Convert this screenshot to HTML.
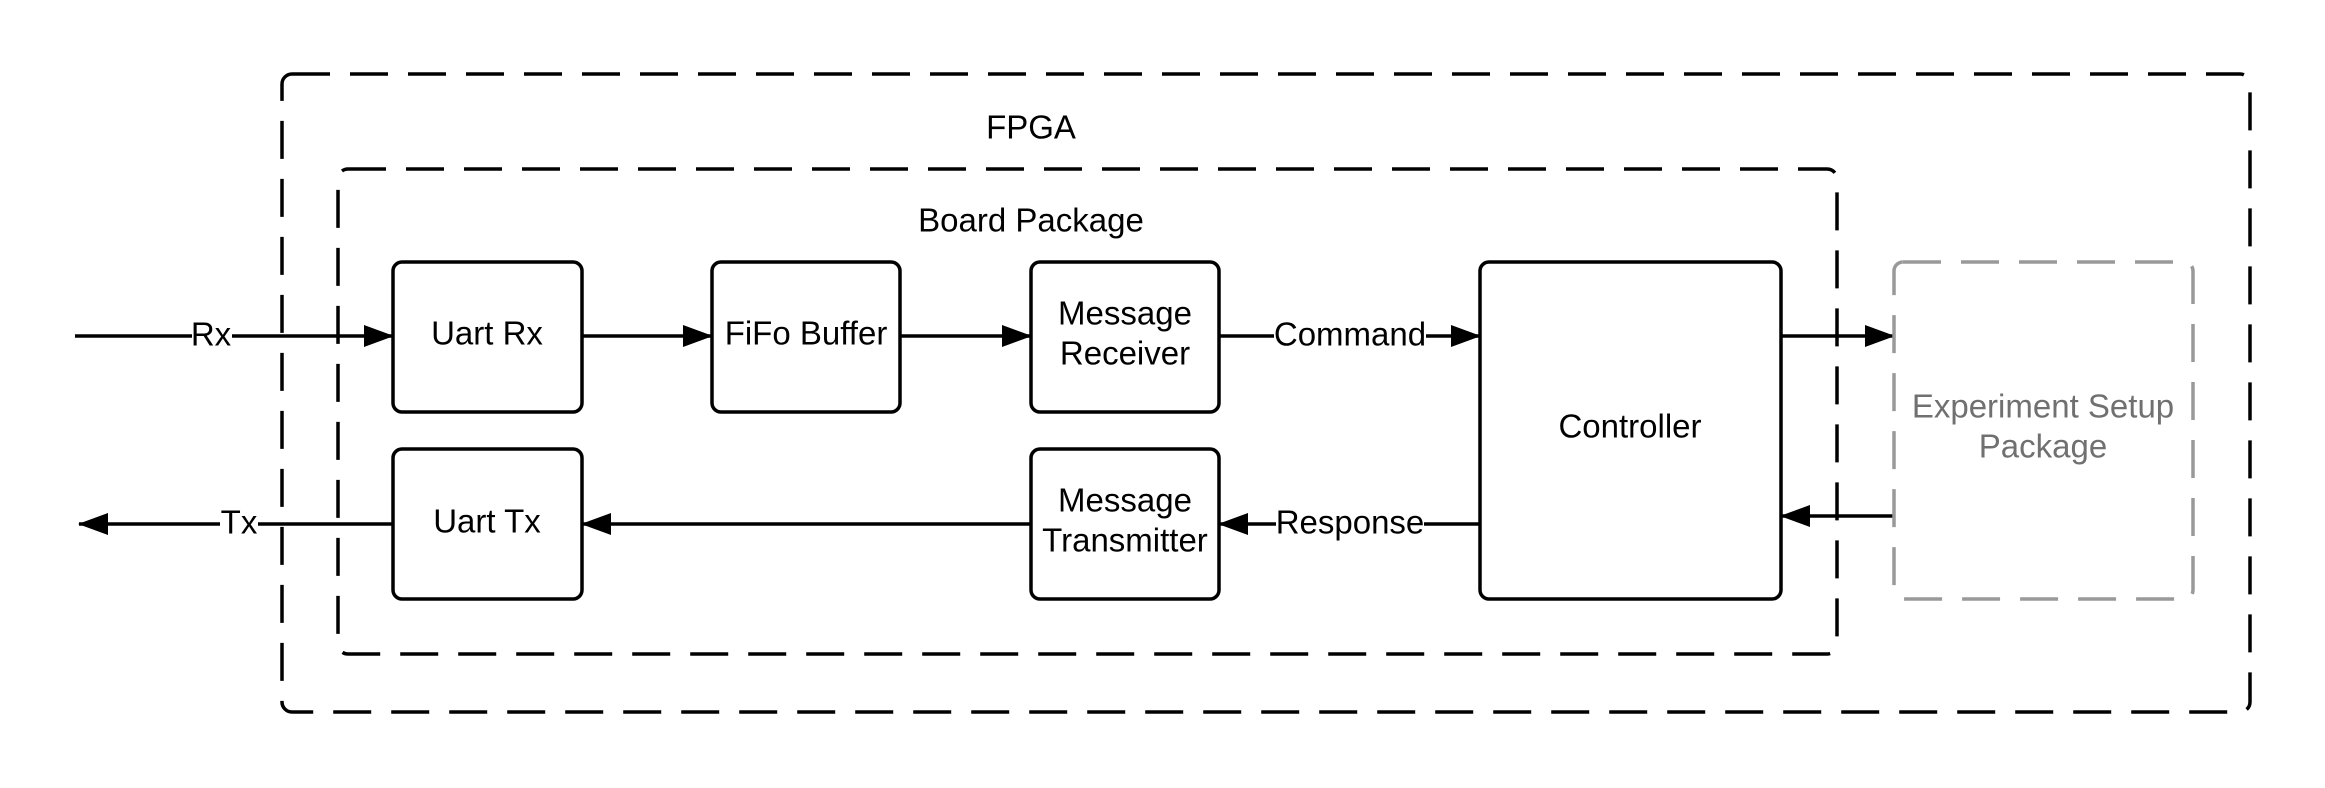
<!DOCTYPE html>
<html><head><meta charset="utf-8"><style>
html,body{margin:0;padding:0;background:#fff;}
svg{display:block;}
text{font-family:"Liberation Sans",Arial,sans-serif;font-size:33px;fill:#000;text-anchor:middle;dominant-baseline:central;}
</style></head><body>
<svg width="2325" height="788" viewBox="0 0 2325 788" xmlns="http://www.w3.org/2000/svg">
<defs>
<marker id="ah" markerWidth="30" markerHeight="22" refX="29" refY="11" orient="auto" markerUnits="userSpaceOnUse">
<path d="M0,0 L30,11 L0,22 Z" fill="#000"/>
</marker>
</defs>
<rect x="282" y="74" width="1968" height="638" rx="10" fill="none" stroke="#000" stroke-width="3.5" stroke-dasharray="38 20"/>
<rect x="338" y="169" width="1499" height="485" rx="10" fill="none" stroke="#000" stroke-width="3.5" stroke-dasharray="38 20"/>
<text x="1031" y="127">FPGA</text>
<text x="1031" y="220">Board Package</text>

<line x1="75" y1="336" x2="393" y2="336" stroke="#000" stroke-width="3.5" marker-end="url(#ah)"/>
<rect x="192" y="318" width="40" height="36" fill="#fff"/>
<text x="211" y="334">Rx</text>
<line x1="582" y1="336" x2="712" y2="336" stroke="#000" stroke-width="3.5" marker-end="url(#ah)"/>
<line x1="900" y1="336" x2="1031" y2="336" stroke="#000" stroke-width="3.5" marker-end="url(#ah)"/>
<line x1="1219" y1="336" x2="1480" y2="336" stroke="#000" stroke-width="3.5" marker-end="url(#ah)"/>
<rect x="1274" y="318" width="152" height="36" fill="#fff"/>
<text x="1350" y="334">Command</text>
<line x1="1781" y1="336" x2="1894" y2="336" stroke="#000" stroke-width="3.5" marker-end="url(#ah)"/>
<line x1="1894" y1="516" x2="1781" y2="516" stroke="#000" stroke-width="3.5" marker-end="url(#ah)"/>
<line x1="1480" y1="524" x2="1219" y2="524" stroke="#000" stroke-width="3.5" marker-end="url(#ah)"/>
<rect x="1276" y="506" width="148" height="36" fill="#fff"/>
<text x="1350" y="522">Response</text>
<line x1="1031" y1="524" x2="582" y2="524" stroke="#000" stroke-width="3.5" marker-end="url(#ah)"/>
<line x1="393" y1="524" x2="79" y2="524" stroke="#000" stroke-width="3.5" marker-end="url(#ah)"/>
<rect x="220" y="506" width="38" height="36" fill="#fff"/>
<text x="239" y="522">Tx</text>

<g fill="#fff" stroke="#000" stroke-width="3.5">
<rect x="393" y="262" width="189" height="150" rx="9"/>
<rect x="712" y="262" width="188" height="150" rx="9"/>
<rect x="1031" y="262" width="188" height="150" rx="9"/>
<rect x="393" y="449" width="189" height="150" rx="9"/>
<rect x="1031" y="449" width="188" height="150" rx="9"/>
<rect x="1480" y="262" width="301" height="337" rx="9"/>
</g>
<rect x="1894" y="262" width="299" height="337" rx="9" fill="none" stroke="#999" stroke-width="3.5" stroke-dasharray="38 20"/>

<text x="487" y="333">Uart Rx</text>
<text x="806" y="333">FiFo Buffer</text>
<text x="1125" y="313">Message</text>
<text x="1125" y="353">Receiver</text>
<text x="487" y="521">Uart Tx</text>
<text x="1125" y="500">Message</text>
<text x="1125" y="540">Transmitter</text>
<text x="1630" y="426">Controller</text>
<text x="2043" y="406" style="fill:#707070">Experiment Setup</text>
<text x="2043" y="446" style="fill:#707070">Package</text>
</svg>
</body></html>
